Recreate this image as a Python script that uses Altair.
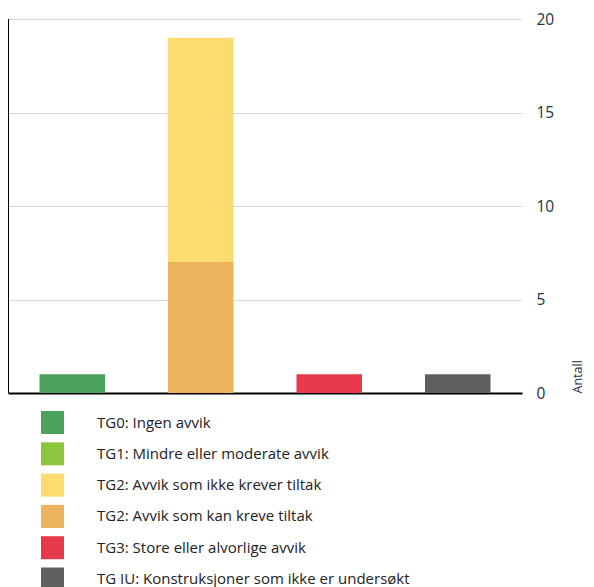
import altair as alt
import pandas as pd

bars = ["B1", "B2", "B3", "B4"]
series = [
    "TG0: Ingen avvik",
    "TG1: Mindre eller moderate avvik",
    "TG2: Avvik som ikke krever tiltak",
    "TG2: Avvik som kan kreve tiltak",
    "TG3: Store eller alvorlige avvik",
    "TG IU: Konstruksjoner som ikke er undersøkt",
]
colors = ["#4ca25c", "#8cc63e", "#fedb6f", "#eeb35f", "#e63a4c", "#606060"]
stack_rank = [5, 4, 3, 2, 1, 0]

# values per series for bars B1..B4
values = {
    series[0]: [1, 0, 0, 0],
    series[1]: [0, 0, 0, 0],
    series[2]: [0, 12, 0, 0],
    series[3]: [0, 7, 0, 0],
    series[4]: [0, 0, 1, 0],
    series[5]: [0, 0, 0, 1],
}

rows = []
for i, s in enumerate(series):
    for b, v in zip(bars, values[s]):
        rows.append({"bar": b, "serie": s, "antall": v, "rank": stack_rank[i]})
df = pd.DataFrame(rows)

W, H = 514, 374
FONT = "Open Sans"

bars_chart = alt.Chart(df).mark_bar().encode(
    x=alt.X("bar:N", sort=bars, title=None,
            scale=alt.Scale(paddingInner=0.49, paddingOuter=0.245),
            axis=alt.Axis(labels=False, ticks=False, domainColor="#000000",
                          domainWidth=2, grid=False)),
    y=alt.Y("antall:Q", stack="zero", title="Antall",
            scale=alt.Scale(domain=[0, 20]),
            axis=alt.Axis(orient="right", values=[0, 5, 10, 15, 20], ticks=False,
                          domain=False, gridColor="#d9d9d9", gridWidth=1,
                          labelFont=FONT, labelFontSize=15.5, labelColor="#253240",
                          labelPadding=14,
                          titleFont=FONT, titleFontSize=12.5, titleColor="#253240",
                          titleFontWeight="normal", titleAngle=270,
                          titleAlign="left", titleBaseline="middle",
                          titleX=55, titleY=H)),
    color=alt.Color("serie:N", title=None,
                    scale=alt.Scale(domain=series, range=colors),
                    legend=alt.Legend(orient="none", legendX=33, legendY=392,
                                      direction="vertical", symbolType="square",
                                      symbolSize=529, symbolStrokeWidth=0,
                                      symbolOpacity=1,
                                      labelFont=FONT, labelFontSize=15,
                                      labelColor="#222222", labelOffset=33,
                                      labelLimit=500, rowPadding=8.3)),
    order=alt.Order("rank:Q", sort="ascending"),
)

left_line = alt.Chart(pd.DataFrame({"v": [0]})).mark_rule(
    color="#000000", strokeWidth=2
).encode(x=alt.value(0), y=alt.value(0), y2=alt.value(H))

chart = alt.layer(bars_chart, left_line).properties(
    width=W, height=H,
    autosize=alt.AutoSizeParams(type="none"),
    padding={"left": 0, "top": 11, "right": 64, "bottom": 194},
).configure_view(stroke=None)

chart.save("out.html", embed_options={"renderer": "svg", "actions": False})
